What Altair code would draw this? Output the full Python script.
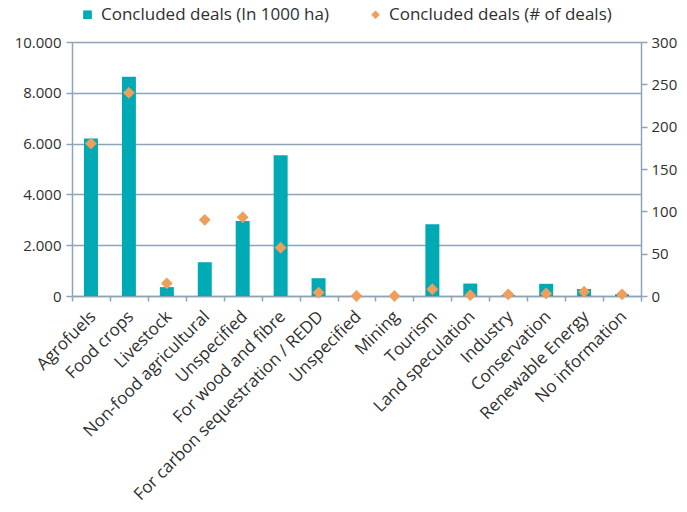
import altair as alt
import pandas as pd

categories = [
    "Agrofuels", "Food crops", "Livestock", "Non-food agricultural", "Unspecified",
    "For wood and fibre", "For carbon sequestration / REDD", "Unspecified", "Mining",
    "Tourism", "Land speculation", "Industry", "Conservation", "Renewable Energy",
    "No information",
]
area_1000ha = [6200, 8630, 350, 1330, 2950, 5540, 700, 0, 0, 2820, 490, 30, 480, 280, 70]
num_deals = [180, 240, 15, 90, 93, 57, 4, 0, 0, 8, 1, 2, 3, 5, 2]
left_ticks = [0, 2000, 4000, 6000, 8000, 10000]
right_ticks = [0, 50, 100, 150, 200, 250, 300]

S1 = "Concluded deals (In 1000 ha)"
S2 = "Concluded deals (# of deals)"
TEAL = "#00AAB5"
ORANGE = "#F09E5C"
GRID = "#8CA4B7"
TXT = "#2f2f2f"
FONT = "Open Sans"

keys = [f"{i:02d}|{c}" for i, c in enumerate(categories)]
df = pd.DataFrame({
    "key": keys,
    "area": area_1000ha,
    "deals": num_deals,
    "s1": S1,
    "s2": S2,
})

x = alt.X(
    "key:N", sort=None, title=None,
    scale=alt.Scale(paddingInner=0.0, paddingOuter=0.0),
    axis=alt.Axis(
        labelExpr="split(datum.value, '|')[1]",
        labelAngle=-45, labelAlign="right", labelBaseline="top",
        tickBand="extent", ticks=True, tickSize=5, tickColor=GRID, tickWidth=1.5,
        domainColor=GRID, domainWidth=1.5, labelPadding=7, labelOffset=-4,
        labelLimit=0, labelFontSize=17, labelColor=TXT, labelFont=FONT,
    ),
)

color_scale = alt.Scale(domain=[S1, S2], range=[TEAL, ORANGE])
shape_scale = alt.Scale(domain=[S1, S2], range=["square", "diamond"])
legend = alt.Legend(
    title=None, orient="none", legendX=7, legendY=-36, direction="horizontal",
    labelFontSize=17, labelFont=FONT, labelColor=TXT, symbolSize=75,
    columnPadding=38, symbolOpacity=1, labelOffset=5, labelLimit=0, padding=0,
)

bars = alt.Chart(df).mark_bar(size=14, color=TEAL).encode(
    x=x,
    y=alt.Y(
        "area:Q", title=None,
        scale=alt.Scale(domain=[0, 10000], nice=False),
        axis=alt.Axis(
            values=left_ticks,
            labelExpr="replace(format(datum.value, ','), ',', '.')",
            grid=True, gridColor=GRID, gridWidth=1.5,
            domainColor=GRID, domainWidth=1.5,
            tickColor=GRID, tickWidth=1.5, tickSize=6, labelPadding=5,
            labelFontSize=15, labelColor=TXT, labelFont=FONT,
        ),
    ),
    color=alt.Color("s1:N", scale=color_scale, legend=legend),
)

points = alt.Chart(df).mark_point(filled=True, size=140, opacity=1).encode(
    x=x,
    y=alt.Y(
        "deals:Q", title=None,
        scale=alt.Scale(domain=[0, 300], nice=False),
        axis=alt.Axis(
            orient="right", values=right_ticks,
            grid=False, domainColor=GRID, domainWidth=1.5,
            tickColor=GRID, tickWidth=1.5, tickSize=6, labelPadding=4,
            labelFontSize=15, labelColor=TXT, labelFont=FONT,
        ),
    ),
    color=alt.Color("s2:N", scale=color_scale, legend=legend),
    shape=alt.Shape("s2:N", scale=shape_scale, legend=legend),
)

chart = alt.layer(bars, points).resolve_scale(y="independent").properties(
    width=569, height=254,
    autosize=alt.AutoSizeParams(type="none"),
    padding={"left": 72, "top": 42, "right": 46, "bottom": 216},
).configure_view(stroke=None).configure(background="white")

chart.save("out.html", embed_options={"renderer": "svg", "actions": False})
